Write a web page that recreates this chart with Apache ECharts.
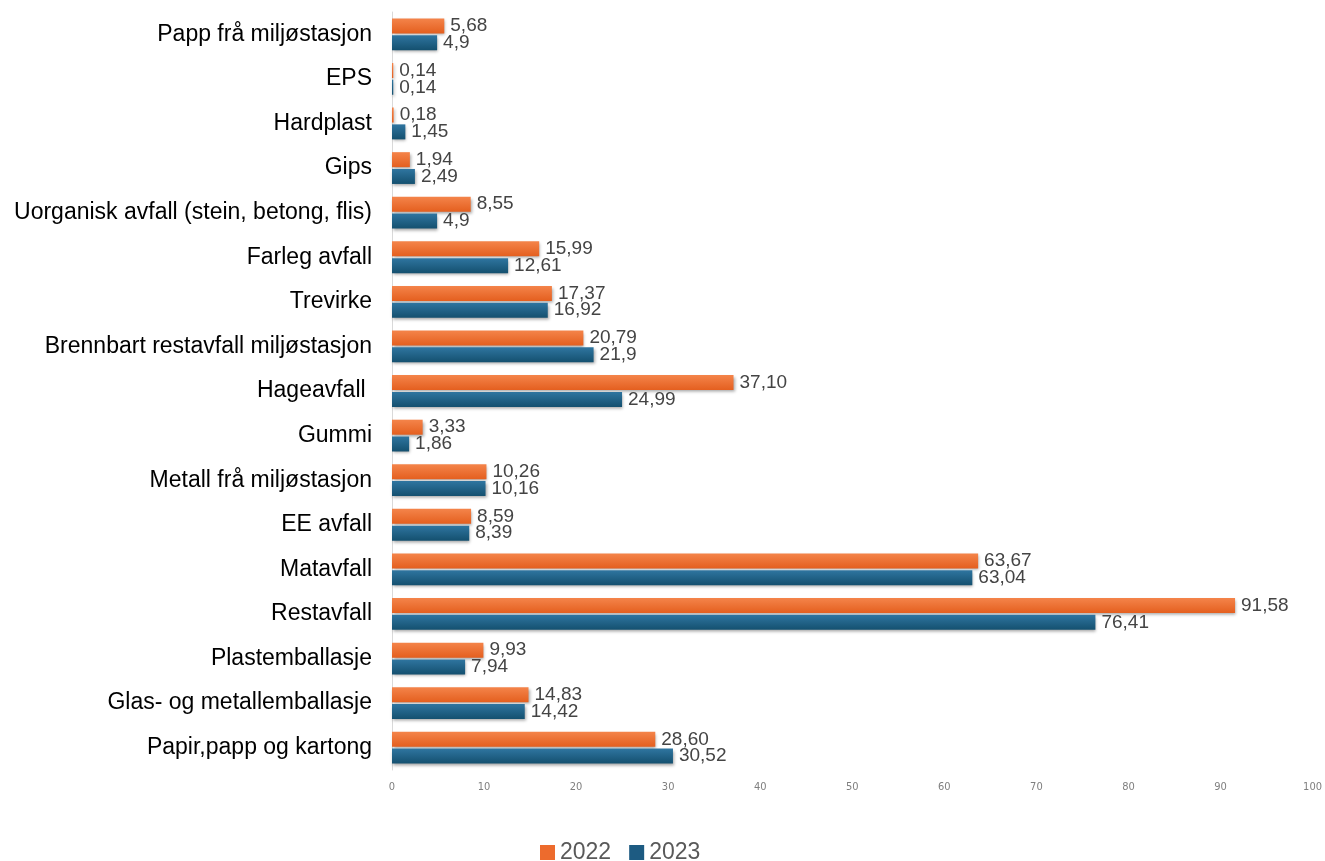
<!DOCTYPE html>
<html lang="no">
<head>
    <meta charset="UTF-8">
    <title>Avfall 2022 / 2023</title>
    <script src="https://cdn.jsdelivr.net/npm/echarts@6/dist/echarts.min.js"></script>
    <style>
        html, body { margin: 0; padding: 0; background: #fff; }
        #chart { width: 1325px; height: 861px; }
    </style>
</head>
<body>
    <div id="chart"></div>
    <script>
        // kategoriar, ovanfrå og ned
        var categories = ['Papp frå miljøstasjon', 'EPS', 'Hardplast', 'Gips',
            'Uorganisk avfall (stein, betong, flis)', 'Farleg avfall', 'Trevirke',
            'Brennbart restavfall miljøstasjon', 'Hageavfall ', 'Gummi',
            'Metall frå miljøstasjon', 'EE avfall', 'Matavfall', 'Restavfall',
            'Plastemballasje', 'Glas- og metallemballasje', 'Papir,papp og kartong'];
        // tal som tekst, så ein held på desimalane slik dei står i figuren
        var v2022 = ['5.68', '0.14', '0.18', '1.94', '8.55', '15.99', '17.37', '20.79', '37.10',
            '3.33', '10.26', '8.59', '63.67', '91.58', '9.93', '14.83', '28.60'];
        var v2023 = ['4.9', '0.14', '1.45', '2.49', '4.9', '12.61', '16.92', '21.9', '24.99',
            '1.86', '10.16', '8.39', '63.04', '76.41', '7.94', '14.42', '30.52'];
        var xTicks = [0, 100, 10]; // min, max, interval

        var chart = echarts.init(document.getElementById('chart'));

        function grad(top, bottom) {
            return new echarts.graphic.LinearGradient(0, 0, 0, 1, [
                { offset: 0, color: top },
                { offset: 1, color: bottom }
            ]);
        }

        var labelStyle = {
            show: true,
            position: 'right',
            distance: 6,
            fontSize: 19,
            color: '#444',
            fontFamily: 'Liberation Sans, Arial, sans-serif',
            formatter: function (p) { return String(p.value).replace('.', ','); }
        };

        var option = {
            animation: false,
            grid: { left: 392, right: 12, top: 12, bottom: 91 },
            legend: {
                left: 535,
                bottom: -8,
                itemWidth: 15,
                itemHeight: 15,
                itemGap: 18,
                icon: 'rect',
                textStyle: { fontSize: 23, color: '#595959', fontFamily: 'Liberation Sans, Arial, sans-serif' },
                data: [
                    { name: '2022', itemStyle: { color: '#ed6b2d' } },
                    { name: '2023', itemStyle: { color: '#1d5b82' } }
                ]
            },
            xAxis: {
                type: 'value',
                min: xTicks[0],
                max: xTicks[1],
                interval: xTicks[2],
                axisLine: { show: false },
                axisTick: { show: false },
                splitLine: { show: false },
                axisLabel: {
                    fontSize: 11,
                    color: '#7f7f7f',
                    margin: 12,
                    fontFamily: 'Liberation Sans Narrow, DejaVu Sans Condensed, sans-serif'
                }
            },
            yAxis: {
                type: 'category',
                inverse: true,
                data: categories,
                axisLine: { show: true, lineStyle: { color: '#d9d9d9', width: 1 } },
                axisTick: { show: false },
                axisLabel: {
                    fontSize: 23,
                    color: '#000',
                    margin: 20,
                    fontFamily: 'Liberation Sans, Arial, sans-serif'
                }
            },
            series: [
                {
                    name: '2022',
                    type: 'bar',
                    data: v2022,
                    barWidth: 15,
                    barGap: '12%',
                    itemStyle: {
                        color: grad('#f4844a', '#e45f1f'),
                        shadowColor: 'rgba(0,0,0,0.35)',
                        shadowBlur: 3,
                        shadowOffsetX: 1,
                        shadowOffsetY: 2
                    },
                    label: labelStyle
                },
                {
                    name: '2023',
                    type: 'bar',
                    data: v2023,
                    barWidth: 15,
                    barGap: '12%',
                    itemStyle: {
                        color: grad('#2f75a0', '#14506f'),
                        shadowColor: 'rgba(0,0,0,0.35)',
                        shadowBlur: 3,
                        shadowOffsetX: 1,
                        shadowOffsetY: 2
                    },
                    label: labelStyle
                }
            ]
        };
        chart.setOption(option);
    </script>
</body>
</html>
